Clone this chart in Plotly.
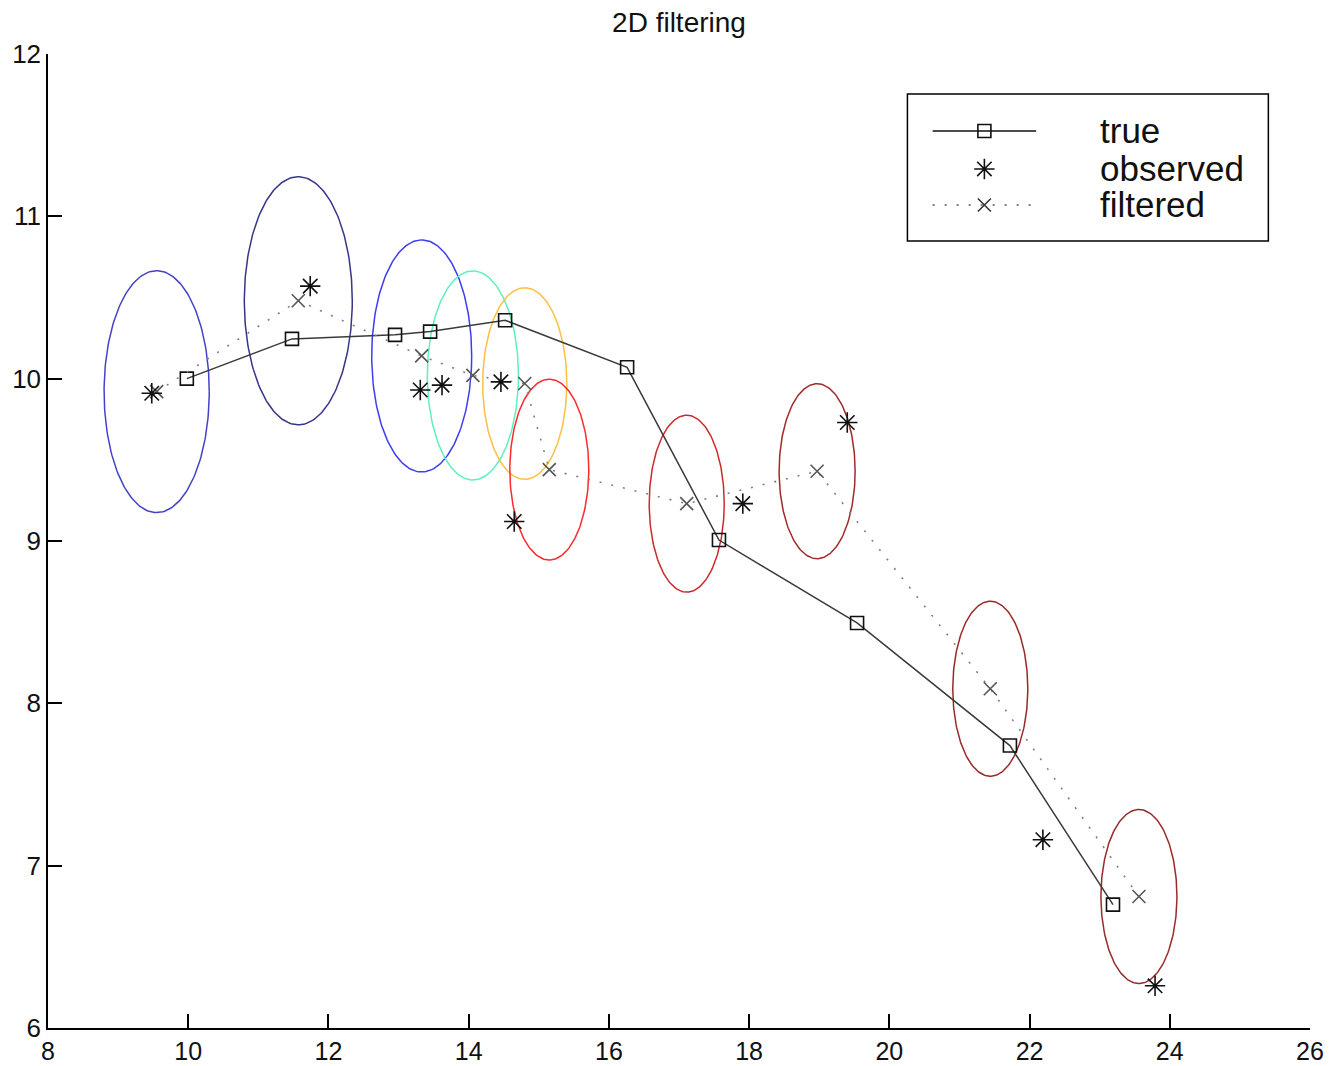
import numpy as np
import plotly.graph_objects as go

# ---- data ----
true_x = [9.98, 11.48, 12.95, 13.45, 14.52, 16.26, 17.57, 19.54, 21.72, 23.19]
true_y = [10.00, 10.245, 10.27, 10.29, 10.36, 10.07, 9.006, 8.495, 7.74, 6.76]

obs_x = [9.48, 11.74, 13.31, 13.62, 14.46, 14.65, 17.91, 19.40, 22.19, 23.79]
obs_y = [9.91, 10.57, 9.93, 9.96, 9.98, 9.12, 9.23, 9.73, 7.16, 6.26]

filt_x = [9.55, 11.57, 13.33, 14.06, 14.80, 15.15, 17.11, 18.97, 21.44, 23.56]
filt_y = [9.92, 10.48, 10.14, 10.02, 9.97, 9.44, 9.23, 9.43, 8.09, 6.81]

# ellipse semi-axes (data units), centred on the filtered estimates
ell_rx = [0.75, 0.77, 0.713, 0.65, 0.60, 0.563, 0.535, 0.542, 0.535, 0.542]
ell_ry = [0.745, 0.764, 0.715, 0.644, 0.59, 0.557, 0.545, 0.539, 0.539, 0.536]
ell_colors = ["#4343c8", "#35358a", "#3d3df2", "#5ef0c0", "#ffbf45",
              "#ff2a2a", "#cc2a2a", "#a02a2a", "#9a2a2a", "#9a2a2a"]

x_ticks = [8, 10, 12, 14, 16, 18, 20, 22, 24, 26]
y_ticks = [6, 7, 8, 9, 10, 11, 12]

legend_names = ["true", "observed", "filtered"]

FONT = "Liberation Sans, Arial, Helvetica, sans-serif"

W, H = 1331, 1066

fig = go.Figure()

t = np.linspace(0, 2 * np.pi, 200)
for cx, cy, rx, ry, col in zip(filt_x, filt_y, ell_rx, ell_ry, ell_colors):
    fig.add_trace(go.Scatter(
        x=cx + rx * np.cos(t), y=cy + ry * np.sin(t), mode="lines",
        line=dict(color=col, width=1.5), showlegend=False, hoverinfo="skip"))

fig.add_trace(go.Scatter(
    x=true_x, y=true_y, mode="lines+markers", name="true",
    line=dict(color="#3a3a3a", width=1.5),
    marker=dict(symbol="square-open", size=13, color="#111111", line=dict(width=1.6)),
    showlegend=False))

fig.add_trace(go.Scatter(
    x=filt_x, y=filt_y, mode="lines+markers", name="filtered",
    line=dict(color="#808080", width=1.6, dash="2px,10px"),
    marker=dict(symbol="x-thin-open", size=13, color="#555555", line=dict(width=1.6)),
    showlegend=False))

fig.add_trace(go.Scatter(
    x=obs_x, y=obs_y, mode="markers", name="observed",
    marker=dict(symbol="asterisk-open", size=17, color="#111111", line=dict(width=1.6)),
    showlegend=False))

# ---- legend drawn on an overlay axis (0..1 over the plotting area) ----
leg_y = [0.921, 0.882, 0.845]
lx0, lxm, lx1 = 0.701, 0.742, 0.783
fig.add_trace(go.Scatter(
    x=[lx0, lx1], y=[leg_y[0], leg_y[0]], mode="lines", xaxis="x2", yaxis="y2",
    line=dict(color="#111111", width=1.5), showlegend=False, hoverinfo="skip"))
fig.add_trace(go.Scatter(
    x=[lxm], y=[leg_y[0]], mode="markers", xaxis="x2", yaxis="y2",
    marker=dict(symbol="square-open", size=13, color="#111111", line=dict(width=1.6)),
    showlegend=False, hoverinfo="skip"))
fig.add_trace(go.Scatter(
    x=[lxm], y=[leg_y[1]], mode="markers", xaxis="x2", yaxis="y2",
    marker=dict(symbol="asterisk-open", size=17, color="#111111", line=dict(width=1.6)),
    showlegend=False, hoverinfo="skip"))
fig.add_trace(go.Scatter(
    x=[lx0, lx1], y=[leg_y[2], leg_y[2]], mode="lines", xaxis="x2", yaxis="y2",
    line=dict(color="#555555", width=1.6, dash="2px,10px"), showlegend=False, hoverinfo="skip"))
fig.add_trace(go.Scatter(
    x=[lxm], y=[leg_y[2]], mode="markers", xaxis="x2", yaxis="y2",
    marker=dict(symbol="x-thin-open", size=13, color="#333333", line=dict(width=1.6)),
    showlegend=False, hoverinfo="skip"))

annotations = []
for name, yy in zip(legend_names, leg_y):
    annotations.append(dict(x=0.832, y=yy, xref="paper", yref="paper", text=name,
                            showarrow=False, xanchor="left", yanchor="middle",
                            font=dict(family=FONT, size=35, color="#111111")))

fig.update_layout(
    width=W, height=H,
    margin=dict(l=48, r=21, t=54, b=38),
    paper_bgcolor="white", plot_bgcolor="white",
    showlegend=False,
    title=dict(text="2D filtering", x=0.5, xref="paper", xanchor="center",
               y=1 - 22 / H, yref="container", yanchor="middle",
               font=dict(family=FONT, size=28, color="#111111")),
    xaxis=dict(range=[8, 26], tickvals=x_ticks, ticks="inside", ticklen=14, tickwidth=1.5,
               tickcolor="black", showline=True, linecolor="black", linewidth=1.5,
               showgrid=False, zeroline=False, mirror=False, automargin=False,
               tickfont=dict(family=FONT, size=25, color="#111111")),
    yaxis=dict(range=[6, 12], tickvals=y_ticks, ticks="inside", ticklen=14, tickwidth=1.5,
               tickcolor="black", showline=True, linecolor="black", linewidth=1.5,
               showgrid=False, zeroline=False, mirror=False, automargin=False,
               tickfont=dict(family=FONT, size=26, color="#111111")),
    xaxis2=dict(range=[0, 1], overlaying="x", visible=False),
    yaxis2=dict(range=[0, 1], overlaying="y", visible=False),
    annotations=annotations,
    shapes=[dict(type="rect", xref="paper", yref="paper", x0=0.681, x1=0.967,
                 y0=0.808, y1=0.959, line=dict(color="black", width=1.5))],
)

fig.write_html(
    "out.html",
    config={"displayModeBar": False},
    post_script="document.body.style.margin='0';document.body.style.overflow='hidden';",
)
